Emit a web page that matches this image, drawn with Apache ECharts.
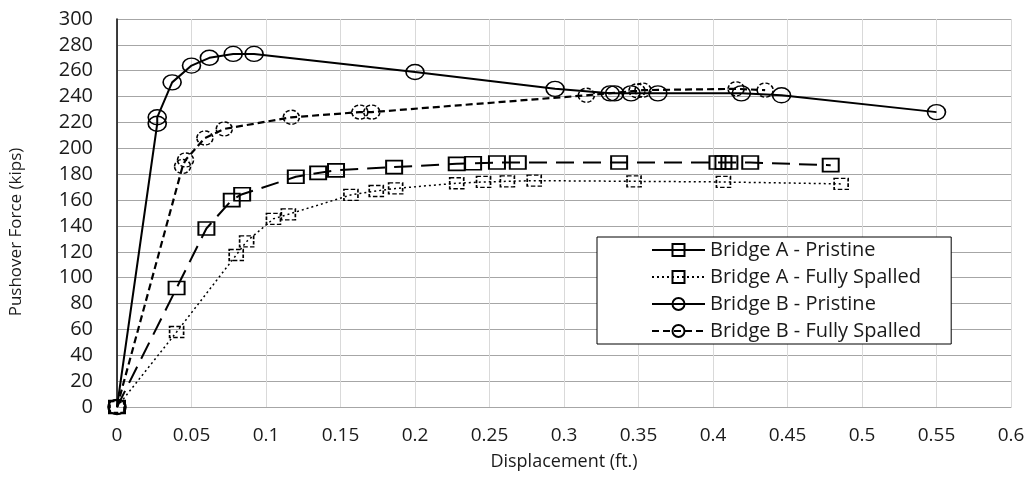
<!DOCTYPE html>
<html>
<head>
<meta charset="utf-8">
<script src="https://cdn.jsdelivr.net/npm/echarts@6/dist/echarts.min.js"></script>
<style>html,body{margin:0;padding:0;background:#fff}#c{width:1031px;height:477px}</style>
</head>
<body>
<div id="c"></div>
<script>
// ---- data (displacement ft., pushover force kips) ----
const seriesNames = ['Bridge A - Pristine', 'Bridge A - Fully Spalled', 'Bridge B - Pristine', 'Bridge B - Fully Spalled'];
const bridgeAPristine = [[0,0],[0.040,92],[0.060,138],[0.077,160],[0.084,164.5],[0.120,178],[0.135,181],[0.147,183],[0.186,185.5],[0.228,188],[0.239,188.5],[0.255,189],[0.269,189],[0.337,189],[0.403,189],[0.407,189],[0.411,189],[0.425,189],[0.479,187]];
const bridgeASpalled = [[0,0],[0.040,58],[0.080,117.5],[0.087,128],[0.105,145.5],[0.115,149],[0.157,164],[0.174,167],[0.187,169],[0.228,173],[0.246,174],[0.262,174.5],[0.280,175],[0.347,174.5],[0.407,174],[0.486,172.5]];
const bridgeBPristine = [[0,0],[0.027,219],[0.027,224],[0.037,251],[0.050,264],[0.062,270],[0.078,273],[0.092,273],[0.200,259],[0.294,246],[0.331,242.5],[0.334,242.5],[0.345,242.5],[0.363,242.5],[0.419,242.5],[0.446,241],[0.550,228]];
const bridgeBSpalled = [[0,0],[0.044,186],[0.046,191],[0.059,208],[0.072,215],[0.117,224],[0.163,228],[0.171,228],[0.315,241],[0.349,244.5],[0.353,245],[0.4155,246],[0.435,245]];
const xTickLabels = ['0','0.05','0.1','0.15','0.2','0.25','0.3','0.35','0.4','0.45','0.5','0.55','0.6'];
const yTickLabels = ['0','20','40','60','80','100','120','140','160','180','200','220','240','260','280','300'];

const chart = echarts.init(document.getElementById('c'), null, {renderer: 'canvas'});
const TXT = '#1a1a1a';
const FONT = 'Open Sans';
const ELLIPSE = 'path://M0,10A10,10 0 1,1 20,10A10,10 0 1,1 0,10Z';
function mk(name, data, symbol, size, lineType, lineWidth, borderType, borderWidth) {
  return {
    name: name, type: 'line', data: data,
    symbol: symbol, symbolSize: size, showSymbol: true, symbolKeepAspect: false,
    lineStyle: {color: '#000', width: lineWidth, type: lineType},
    itemStyle: {color: 'rgba(255,255,255,0)', borderColor: '#000', borderWidth: borderWidth, borderType: borderType},
    emphasis: {disabled: true},
    z: 3
  };
}
chart.setOption({
  animation: false,
  backgroundColor: '#fff',
  grid: {left: 117, right: 20, top: 19, bottom: 70, containLabel: false, outerBoundsMode: 'none'},
  legend: {
    orient: 'vertical', left: 597, top: 237,
    backgroundColor: '#fff', borderColor: '#000', borderWidth: 1,
    padding: [3, 30, 3, 54],
    itemWidth: 53, itemHeight: 15, itemGap: 7,
    textStyle: {fontFamily: FONT, fontSize: 20, color: TXT, lineHeight: 20},
    data: [
      {name: seriesNames[0], lineStyle: {type: 'solid'}},
      {name: seriesNames[1]},
      {name: seriesNames[2]},
      {name: seriesNames[3]}
    ]
  },
  xAxis: {
    type: 'value', min: 0, max: 0.6, interval: 0.05,
    name: 'Displacement (ft.)', nameLocation: 'middle', nameGap: 46,
    nameTextStyle: {fontFamily: FONT, fontSize: 18, color: TXT},
    axisLine: {show: true, lineStyle: {color: '#a6a6a6', width: 1}},
    axisTick: {show: false},
    axisLabel: {margin: 19, fontFamily: FONT, fontSize: 19, color: TXT,
      formatter: function (v) { return xTickLabels[Math.round(v / 0.05)]; }},
    splitLine: {show: true, lineStyle: {color: '#d9d9d9', width: 1}}
  },
  yAxis: {
    type: 'value', min: 0, max: 300, interval: 20,
    name: 'Pushover Force (kips)', nameLocation: 'middle', nameGap: 92,
    nameTextStyle: {fontFamily: FONT, fontSize: 17, color: TXT, padding: [0, 38, 0, 0]},
    axisLine: {show: true, lineStyle: {color: '#000', width: 1.5}},
    axisTick: {show: false},
    axisLabel: {margin: 24, fontFamily: FONT, fontSize: 20, color: TXT,
      formatter: function (v) { return yTickLabels[Math.round(v / 20)]; }},
    splitLine: {show: true, lineStyle: {color: '#a6a6a6', width: 1}}
  },
  series: [
    mk(seriesNames[0], bridgeAPristine, 'rect', [16, 13], [18, 9], 2, 'solid', 1.8),
    mk(seriesNames[1], bridgeASpalled, 'rect', [14, 11], [2, 3], 1.5, [4, 2], 1.5),
    mk(seriesNames[2], bridgeBPristine, ELLIPSE, [18, 15], 'solid', 2, 'solid', 1.5),
    mk(seriesNames[3], bridgeBSpalled, ELLIPSE, [16, 14], [7, 4], 2.2, [4, 2], 1.5)
  ]
});
</script>
</body>
</html>
